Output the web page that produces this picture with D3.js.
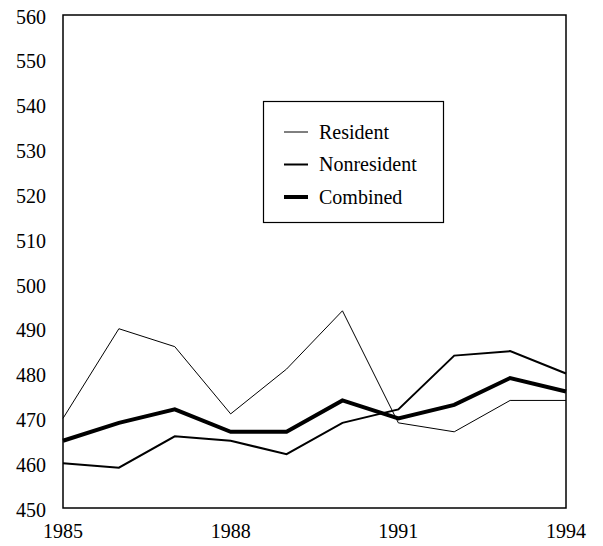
<!DOCTYPE html>
<html>
<head>
	<meta charset="UTF-8">
	<title>resident / nonresident</title>
	<style>
html, body { margin:0; padding:0; background:#fff; }
text { font-family: "Liberation Serif", "DejaVu Serif", serif; font-size: 20px; fill: #000; }
	</style>
	<script src="https://cdnjs.cloudflare.com/ajax/libs/d3/7.8.5/d3.min.js"></script>
</head>
<body>
<script>
const years = [1985, 1986, 1987, 1988, 1989, 1990, 1991, 1992, 1993, 1994];
const resident    = [470, 490, 486, 471, 481, 494, 469, 467, 474, 474];
const nonresident = [460, 459, 466, 465, 462, 469, 472, 484, 485, 480];
const combined    = [465, 469, 472, 467, 467, 474, 470, 473, 479, 476];
const xTicks = [1985, 1988, 1991, 1994];
const yTicks = [450, 460, 470, 480, 490, 500, 510, 520, 530, 540, 550, 560];
const seriesNames = ['Resident', 'Nonresident', 'Combined'];

const W = 603, H = 546;
const m = {left: 63, right: 37, top: 15, bottom: 38};

const svg = d3.select('body').append('svg').attr('width', W).attr('height', H);

const x = d3.scaleLinear().domain([1985, 1994]).range([m.left, W - m.right]);
const y = d3.scaleLinear().domain([450, 560]).range([H - m.bottom, m.top]);

// frame
svg.append('rect')
	.attr('x', x(1985)).attr('y', y(560))
	.attr('width', x(1994) - x(1985)).attr('height', y(450) - y(560))
	.attr('fill', 'none').attr('stroke', '#000').attr('stroke-width', 1.5);

// y labels
svg.append('g').selectAll('text').data(yTicks).join('text')
	.attr('x', 46).attr('y', d => y(d)).attr('dy', '0.43em')
	.attr('text-anchor', 'end')
	.text(d => d);

// x labels
svg.append('g').selectAll('text').data(xTicks).join('text')
	.attr('x', d => x(d)).attr('y', 538)
	.attr('text-anchor', 'middle')
	.text(d => d);

const widths = [1, 2, 4];
const series = [resident, nonresident, combined];
const line = d3.line().x((d, i) => x(years[i])).y(d => y(d));

svg.append('g').selectAll('path').data(series).join('path')
	.attr('d', line)
	.attr('fill', 'none')
	.attr('stroke', '#000')
	.attr('stroke-width', (d, i) => widths[i])
	.attr('stroke-linejoin', 'miter');

// legend
const lg = svg.append('g');
lg.append('rect')
	.attr('x', 263.5).attr('y', 101.5).attr('width', 180).attr('height', 121)
	.attr('fill', '#fff').attr('stroke', '#000').attr('stroke-width', 1.2);
const rows = lg.selectAll('g').data(seriesNames).join('g')
	.attr('transform', (d, i) => `translate(0,${132 + i * 32.5})`);
rows.append('line')
	.attr('x1', 284).attr('x2', 308)
	.attr('stroke', '#000')
	.attr('stroke-width', (d, i) => widths[i]);
rows.append('text')
	.attr('x', 319).attr('dy', '0.33em')
	.text(d => d);
</script>
</body>
</html>
